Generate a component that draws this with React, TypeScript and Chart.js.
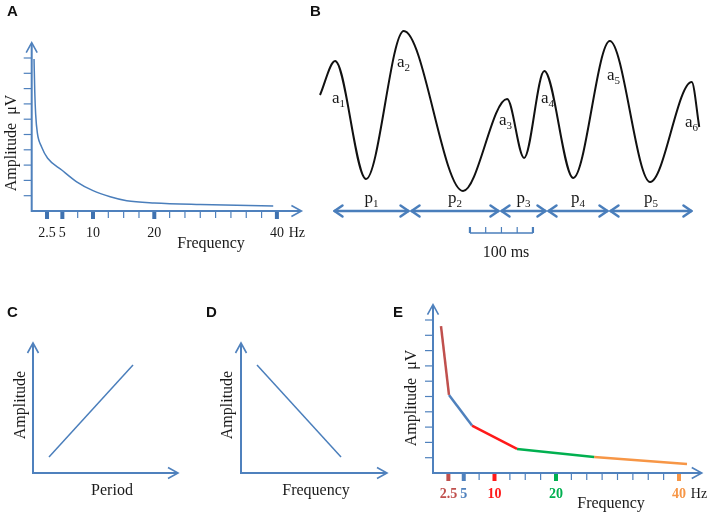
import React, { useEffect, useRef } from "react";
import { Chart, registerables } from "chart.js";
Chart.register(...registerables);

const W = 709;
const H = 514;
const AXIS_BLUE = "#4f81bd";
const LINE_BLUE = "#4a7ebb";
const SERIF = '"Liberation Serif", "Times New Roman", serif';
const SANS = '"Liberation Sans", Arial, sans-serif';

// ---------- Panel A : amplitude spectrum ----------
const freqA = [0.38, 0.5, 0.65, 0.92, 1.6, 2.6, 4.9, 7.34, 10, 12.8, 15.5, 20, 27.5, 39.4];
const ampA = [9.93, 7.8, 6.3, 5.1, 4.2, 3.45, 2.68, 1.91, 1.33, 0.93, 0.67, 0.52, 0.42, 0.33];
const freqTicks = [2.5, 5, 7.5, 10, 12.5, 15, 17.5, 20, 22.5, 25, 27.5, 30, 32.5, 35, 37.5, 40];
const freqLabelValues = [2.5, 5, 10, 20, 40];
const freqLabelTexts = ["2.5", "5", "10", "20", "40"];
const ampTicks = [1, 2, 3, 4, 5, 6, 7, 8, 9, 10];

// ---------- Panel B : EEG waveform ----------
const timeB = [0, 24, 73, 133, 227, 297, 324, 356, 402, 460, 524, 590, 602];
const voltB = [10.5, 13.9, 2.1, 16.9, 0.9, 10.1, 4.2, 12.9, 2.2, 15.9, 1.8, 11.8, 7.3];
const peakSubs = ["1", "2", "3", "4", "5", "6"];
const periodBounds = [20.6, 142.9, 285.7, 360.3, 458.7, 592];
const periodSubs = ["1", "2", "3", "4", "5"];
const scaleBarMs = [238, 263, 288, 313, 338];

// ---------- Panel C ----------
const periodC = [1.6, 10];
const ampC = [1.6, 10.8];

// ---------- Panel D ----------
const freqD = [1.6, 10];
const ampD = [10.8, 1.6];

// ---------- Panel E : segmented spectrum ----------
const segFreqE = [
  [1.3, 2.6],
  [2.6, 6.34],
  [6.34, 13.66],
  [13.66, 26.2],
  [26.2, 41.3],
];
const segAmpE = [
  [9.6, 5.1],
  [5.1, 3.1],
  [3.1, 1.57],
  [1.57, 1.05],
  [1.05, 0.59],
];
const segColorsE = ["#c0504d", "#4f81bd", "#ff1a1a", "#00b050", "#f79646"];
const labelColorsE = ["#c0504d", "#4f81bd", "#ff1a1a", "#00b050", "#f79646"];

type Geo = { ox: number; oy: number; sx: number; sy: number; xMax: number; yMax: number };

const geoA: Geo = { ox: 31.7, oy: 211, sx: 6.13, sy: 15.3, xMax: 44, yMax: 11 };
const geoB: Geo = { ox: 320, oy: 200, sx: 0.63, sy: 10, xMax: 605, yMax: 17 };
const geoC: Geo = { ox: 33, oy: 473, sx: 10, sy: 10, xMax: 14.5, yMax: 13 };
const geoD: Geo = { ox: 241, oy: 473, sx: 10, sy: 10, xMax: 14.6, yMax: 13 };
const geoE: Geo = { ox: 433, oy: 473, sx: 6.15, sy: 15.3, xMax: 43.7, yMax: 11 };

function baseOptions(g: Geo) {
  return {
    responsive: false,
    animation: false as const,
    devicePixelRatio: 1,
    layout: {
      padding: {
        left: g.ox,
        top: g.oy - g.yMax * g.sy,
        right: W - (g.ox + g.xMax * g.sx),
        bottom: H - g.oy,
      },
    },
    plugins: { legend: { display: false }, tooltip: { enabled: false } },
    scales: {
      x: { type: "linear" as const, display: false, min: 0, max: g.xMax },
      y: { type: "linear" as const, display: false, min: 0, max: g.yMax },
    },
    elements: { point: { radius: 0 } },
  };
}

function arrowHead(ctx: CanvasRenderingContext2D, tx: number, ty: number, dx: number, dy: number, len: number, half: number) {
  const px = -dy;
  const py = dx;
  ctx.beginPath();
  ctx.moveTo(tx - dx * len + px * half, ty - dy * len + py * half);
  ctx.lineTo(tx, ty);
  ctx.lineTo(tx - dx * len - px * half, ty - dy * len - py * half);
  ctx.stroke();
}

function drawAxes(chart: any) {
  const { ctx, chartArea: a, scales } = chart;
  const ox = scales.x.getPixelForValue(0);
  const oy = scales.y.getPixelForValue(0);
  ctx.save();
  ctx.strokeStyle = AXIS_BLUE;
  ctx.lineWidth = 2;
  ctx.beginPath();
  ctx.moveTo(ox, oy + 1);
  ctx.lineTo(ox, a.top + 1);
  ctx.moveTo(ox - 1, oy);
  ctx.lineTo(a.right - 1, oy);
  ctx.stroke();
  ctx.lineWidth = 1.6;
  arrowHead(ctx, ox, a.top, 0, -1, 10, 5.5);
  arrowHead(ctx, a.right, oy, 1, 0, 10, 5.5);
  ctx.restore();
}

function panelLetter(ctx: CanvasRenderingContext2D, t: string, x: number, y: number) {
  ctx.save();
  ctx.font = `bold 15px ${SANS}`;
  ctx.fillStyle = "#111";
  ctx.textAlign = "left";
  ctx.textBaseline = "alphabetic";
  ctx.fillText(t, x, y);
  ctx.restore();
}

function serifText(ctx: CanvasRenderingContext2D, t: string, x: number, y: number, size = 16, align: CanvasTextAlign = "center", color = "#1a1a1a", bold = false) {
  ctx.save();
  ctx.font = `${bold ? "bold " : ""}${size}px ${SERIF}`;
  ctx.fillStyle = color;
  ctx.textAlign = align;
  ctx.textBaseline = "alphabetic";
  ctx.fillText(t, x, y);
  ctx.restore();
}

function rotatedText(ctx: CanvasRenderingContext2D, t: string, x: number, cy: number, size = 16) {
  ctx.save();
  ctx.translate(x, cy);
  ctx.rotate(-Math.PI / 2);
  ctx.font = `${size}px ${SERIF}`;
  ctx.fillStyle = "#1a1a1a";
  ctx.textAlign = "center";
  ctx.textBaseline = "alphabetic";
  ctx.fillText(t, 0, 0);
  ctx.restore();
}

function subText(ctx: CanvasRenderingContext2D, base: string, sub: string, x: number, y: number, align: "left" | "center") {
  ctx.save();
  ctx.fillStyle = "#1a1a1a";
  ctx.textBaseline = "alphabetic";
  ctx.textAlign = "left";
  ctx.font = `17px ${SERIF}`;
  const wb = ctx.measureText(base).width;
  ctx.font = `11px ${SERIF}`;
  const ws = ctx.measureText(sub).width;
  const left = align === "center" ? x - (wb + ws) / 2 : x;
  ctx.font = `17px ${SERIF}`;
  ctx.fillText(base, left, y);
  ctx.font = `11px ${SERIF}`;
  ctx.fillText(sub, left + wb, y + 4);
  ctx.restore();
}

function spectrumTicks(chart: any, colors: string[] | null) {
  const { ctx, scales } = chart;
  const ox = scales.x.getPixelForValue(0);
  const oy = scales.y.getPixelForValue(0);
  ctx.save();
  ctx.strokeStyle = AXIS_BLUE;
  ctx.lineWidth = 1.2;
  ampTicks.forEach((v) => {
    const y = scales.y.getPixelForValue(v);
    ctx.beginPath();
    ctx.moveTo(ox - 8, y);
    ctx.lineTo(ox, y);
    ctx.stroke();
  });
  freqTicks.forEach((v) => {
    const x = scales.x.getPixelForValue(v);
    const li = freqLabelValues.indexOf(v);
    if (li >= 0) {
      ctx.fillStyle = colors ? colors[li] : "#3f72b0";
      ctx.fillRect(x - 2, oy + 1, 4, 7);
    } else {
      ctx.beginPath();
      ctx.moveTo(x, oy);
      ctx.lineTo(x, oy + 7);
      ctx.stroke();
    }
  });
  ctx.restore();
}

function spectrumLabels(chart: any, colors: string[] | null, labelDy: number) {
  const { ctx, scales } = chart;
  const oy = scales.y.getPixelForValue(0);
  freqLabelValues.forEach((v, i) => {
    const x = scales.x.getPixelForValue(v);
    serifText(ctx, freqLabelTexts[i], x, oy + labelDy, 14, "center", colors ? colors[i] : "#1a1a1a", !!colors);
  });
  const x40 = scales.x.getPixelForValue(40);
  serifText(ctx, "Hz", x40 + 20, oy + labelDy, 14, "center");
}

// ---------------- chart configs ----------------
function configA() {
  return {
    type: "line" as const,
    data: {
      datasets: [
        {
          data: freqA.map((f, i) => ({ x: f, y: ampA[i] })),
          borderColor: LINE_BLUE,
          borderWidth: 1.5,
          cubicInterpolationMode: "monotone" as const,
          clip: false as any,
          fill: false,
        },
      ],
    },
    options: baseOptions(geoA),
    plugins: [
      {
        id: "panelA",
        beforeDatasetsDraw(chart: any) {
          drawAxes(chart);
          spectrumTicks(chart, null);
        },
        afterDatasetsDraw(chart: any) {
          const { ctx } = chart;
          spectrumLabels(chart, null, 26);
          serifText(ctx, "Frequency", 211, 248, 16);
          rotatedText(ctx, "Amplitude  \u03bcV", 16, 143, 16);
          panelLetter(ctx, "A", 7, 16);
        },
      },
    ],
  };
}

function configB() {
  return {
    type: "line" as const,
    data: {
      datasets: [
        {
          data: timeB.map((t, i) => ({ x: t, y: voltB[i] })),
          borderColor: "#111111",
          borderWidth: 2,
          cubicInterpolationMode: "monotone" as const,
          clip: false as any,
          fill: false,
        },
      ],
    },
    options: baseOptions(geoB),
    plugins: [
      {
        id: "panelB",
        afterDatasetsDraw(chart: any) {
          const { ctx, scales } = chart;
          const sx = (v: number) => scales.x.getPixelForValue(v);
          const peakPos = [
            [332, 103],
            [397, 67],
            [499, 125],
            [541, 103],
            [607, 80],
            [685, 127],
          ];
          peakSubs.forEach((s, i) => subText(ctx, "a", s, peakPos[i][0], peakPos[i][1], "left"));
          ctx.save();
          ctx.strokeStyle = LINE_BLUE;
          ctx.lineWidth = 2.5;
          ctx.lineCap = "round";
          ctx.lineJoin = "round";
          const ay = 211;
          for (let i = 0; i < periodSubs.length; i++) {
            const x1 = sx(periodBounds[i]) + 1.5;
            const x2 = sx(periodBounds[i + 1]) - 1.5;
            ctx.beginPath();
            ctx.moveTo(x1, ay);
            ctx.lineTo(x2, ay);
            ctx.stroke();
            arrowHead(ctx, x1, ay, -1, 0, 8, 5.5);
            arrowHead(ctx, x2, ay, 1, 0, 8, 5.5);
          }
          ctx.restore();
          for (let i = 0; i < periodSubs.length; i++) {
            const cx = (sx(periodBounds[i]) + sx(periodBounds[i + 1])) / 2;
            subText(ctx, "p", periodSubs[i], cx, 203, "center");
          }
          ctx.save();
          ctx.strokeStyle = LINE_BLUE;
          ctx.lineWidth = 1.5;
          const by = 233;
          const bx1 = sx(scaleBarMs[0]);
          const bx2 = sx(scaleBarMs[scaleBarMs.length - 1]);
          ctx.beginPath();
          ctx.moveTo(bx1, by);
          ctx.lineTo(bx2, by);
          ctx.stroke();
          scaleBarMs.forEach((m, i) => {
            const x = sx(m);
            ctx.lineWidth = i === 0 || i === scaleBarMs.length - 1 ? 2.2 : 1.2;
            ctx.beginPath();
            ctx.moveTo(x, by);
            ctx.lineTo(x, by - 6);
            ctx.stroke();
          });
          ctx.restore();
          serifText(ctx, "100 ms", 506, 257, 16);
          panelLetter(ctx, "B", 310, 16);
        },
      },
    ],
  };
}

function configLine(g: Geo, xs: number[], ys: number[], xlabel: string, xlabelX: number, ylabelX: number, letter: string, letterX: number) {
  return {
    type: "line" as const,
    data: {
      datasets: [
        {
          data: xs.map((x, i) => ({ x, y: ys[i] })),
          borderColor: LINE_BLUE,
          borderWidth: 1.5,
          clip: false as any,
          fill: false,
        },
      ],
    },
    options: baseOptions(g),
    plugins: [
      {
        id: "panel" + letter,
        beforeDatasetsDraw(chart: any) {
          drawAxes(chart);
        },
        afterDatasetsDraw(chart: any) {
          const { ctx } = chart;
          serifText(ctx, xlabel, xlabelX, 495, 16);
          rotatedText(ctx, "Amplitude", ylabelX, 405, 16);
          panelLetter(ctx, letter, letterX, 317);
        },
      },
    ],
  };
}

function configE() {
  return {
    type: "line" as const,
    data: {
      datasets: segFreqE.map((fs, i) => ({
        data: fs.map((f, j) => ({ x: f, y: segAmpE[i][j] })),
        borderColor: segColorsE[i],
        borderWidth: 2.5,
        clip: false as any,
        fill: false,
      })),
    },
    options: baseOptions(geoE),
    plugins: [
      {
        id: "panelE",
        beforeDatasetsDraw(chart: any) {
          drawAxes(chart);
          spectrumTicks(chart, labelColorsE);
        },
        afterDatasetsDraw(chart: any) {
          const { ctx } = chart;
          spectrumLabels(chart, labelColorsE, 25);
          serifText(ctx, "Frequency", 611, 508, 16);
          rotatedText(ctx, "Amplitude  \u03bcV", 416, 398, 16);
          panelLetter(ctx, "E", 393, 317);
        },
      },
    ],
  };
}

function ChartCanvas({ make }: { make: () => any }) {
  const ref = useRef<HTMLCanvasElement>(null);
  useEffect(() => {
    const chart = new Chart(ref.current as HTMLCanvasElement, make());
    return () => chart.destroy();
  }, []);
  return (
    <canvas
      ref={ref}
      width={W}
      height={H}
      style={{ position: "absolute", left: 0, top: 0, width: W, height: H }}
    />
  );
}

export default function App() {
  return (
    <div style={{ position: "absolute", left: 0, top: 0, width: W, height: H, background: "#fff", overflow: "hidden" }}>
      <ChartCanvas make={configA} />
      <ChartCanvas make={configB} />
      <ChartCanvas make={() => configLine(geoC, periodC, ampC, "Period", 112, 25, "C", 7)} />
      <ChartCanvas make={() => configLine(geoD, freqD, ampD, "Frequency", 316, 232, "D", 206)} />
      <ChartCanvas make={configE} />
    </div>
  );
}
